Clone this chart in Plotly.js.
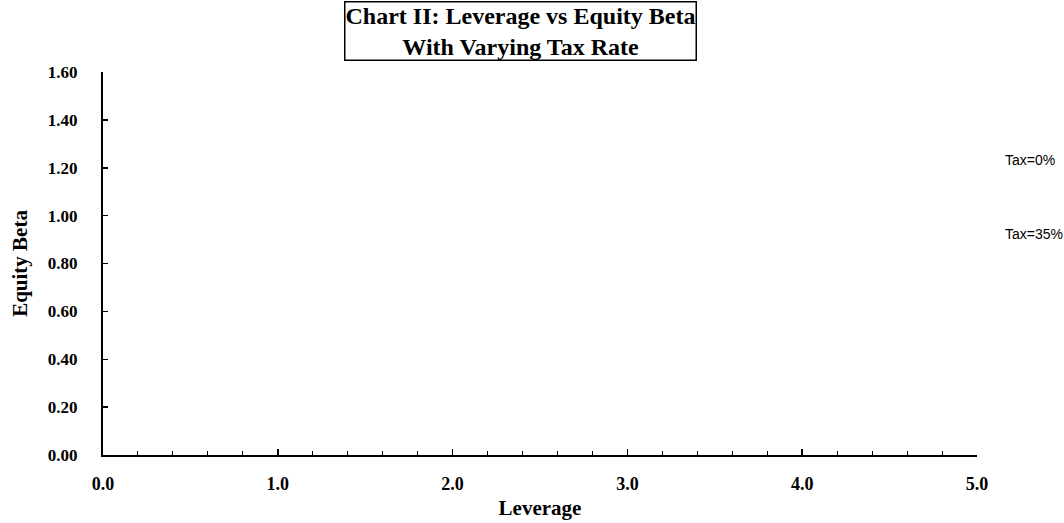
<!DOCTYPE html>
<html>
<head>
<meta charset="utf-8">
<script src="https://cdn.plot.ly/plotly-3.0.1.min.js"></script>
<style>html,body{margin:0;padding:0;background:#fff;}#chart{width:1064px;height:523px;}</style>
</head>
<body>
<div id="chart"></div>
<script>
// Series labels at the right edge (lines themselves are not visible in the reference)
const seriesLabels = ['Tax=0%', 'Tax=35%'];
const labelBeta = [1.232, 0.923];

const xTickVals = [0, 1, 2, 3, 4, 5];
const xTickText = ['0.0', '1.0', '2.0', '3.0', '4.0', '5.0'];
const yTickVals = [0, 0.2, 0.4, 0.6, 0.8, 1.0, 1.2, 1.4, 1.6];
const yTickText = ['0.00', '0.20', '0.40', '0.60', '0.80', '1.00', '1.20', '1.40', '1.60'];

const serif = 'Liberation Serif, Times New Roman, serif';

const labelAnnotations = seriesLabels.map((t, i) => ({
  xref: 'paper', yref: 'y',
  x: 1.0295, y: labelBeta[i],
  xanchor: 'left', yanchor: 'middle',
  text: t, showarrow: false,
  font: {family: 'Liberation Sans, Arial, sans-serif', size: 14, color: '#000'}
}));

const layout = {
  width: 1064, height: 523,
  margin: {l: 103, r: 87, t: 72, b: 68},
  paper_bgcolor: '#fff', plot_bgcolor: '#fff',
  showlegend: false,
  xaxis: {
    range: [0, 5], showgrid: false, zeroline: false,
    showline: true, linecolor: '#000', linewidth: 2,
    tickmode: 'array', tickvals: xTickVals, ticktext: xTickText,
    ticks: 'inside', ticklen: 6, tickwidth: 1.5, tickcolor: '#000',
    minor: {dtick: 0.2, ticks: 'inside', ticklen: 4, tickwidth: 1, tickcolor: '#000', showgrid: false},
    ticklabelstandoff: 11,
    tickfont: {family: serif, size: 18, color: '#000', weight: 'bold'},
    title: {text: '<b>Leverage</b>', font: {family: serif, size: 21, color: '#000'}, standoff: 8}
  },
  yaxis: {
    range: [0, 1.6], showgrid: false, zeroline: false,
    showline: true, linecolor: '#000', linewidth: 2,
    tickmode: 'array', tickvals: yTickVals, ticktext: yTickText,
    ticks: 'inside', ticklen: 5, tickwidth: 1.5, tickcolor: '#000',
    ticklabelstandoff: 20,
    tickfont: {family: serif, size: 17, color: '#000', weight: 'bold'},
    title: {text: '<b>Equity Beta</b>', font: {family: serif, size: 21, color: '#000'}, standoff: 14}
  },
  annotations: [{
    xref: 'paper', yref: 'paper',
    x: 0.478, y: 1.108, xanchor: 'center', yanchor: 'middle',
    text: '<b>Chart II: Leverage vs Equity Beta<br>With Varying Tax Rate</b>',
    showarrow: false,
    font: {family: serif, size: 24, color: '#000'},
    bordercolor: '#000', borderwidth: 1.5, borderpad: 0, bgcolor: '#fff'
  }].concat(labelAnnotations)
};

Plotly.newPlot('chart', [], layout, {displayModeBar: false, staticPlot: true});
</script>
</body>
</html>
